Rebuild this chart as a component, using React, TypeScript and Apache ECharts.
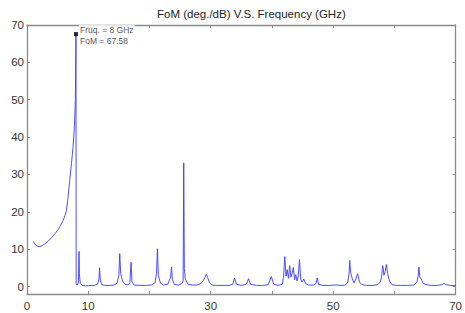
import React, { useEffect, useRef } from "react";
import * as echarts from "echarts";

const titleText = "FoM (deg./dB) V.S. Frequency (GHz)";

const freq = [
  1.0, 1.4, 1.8, 2.3, 2.9, 3.5, 4.0, 4.6, 5.1, 5.5, 5.9, 6.2, 6.45, 6.7, 6.98, 7.26, 7.52, 7.75, 7.9, 8.0,
  8.03, 8.2, 8.4, 8.5, 8.55, 8.7, 9.0, 9.5, 10.0, 10.5, 11.0, 11.5, 11.75, 11.85, 11.95, 12.2, 12.8, 13.5,
  14.2, 14.7, 15.0, 15.15, 15.3, 15.6, 16.0, 16.5, 16.8, 17.0, 17.15, 17.5, 18.5, 19.5, 20.3, 20.9, 21.15,
  21.3, 21.45, 21.8, 22.3, 23.0, 23.45, 23.6, 23.75, 24.1, 24.8, 25.3, 25.5, 25.6, 25.7, 25.85, 26.3, 27.0,
  27.8, 28.4, 28.8, 29.1, 29.3, 29.5, 29.8, 30.2, 31.0, 32.0, 33.0, 33.6, 33.9, 34.2, 35.0, 35.8, 36.2,
  36.5, 37.5, 38.5, 39.4, 39.9, 40.3, 41.0, 41.7, 41.9, 42.1, 42.3, 42.5, 42.7, 42.9, 43.1, 43.3, 43.5,
  43.7, 43.9, 44.1, 44.3, 44.5, 44.7, 44.9, 45.2, 45.5, 46.0, 46.8, 47.2, 47.4, 47.6, 48.3, 49.3, 50.3,
  51.3, 52.0, 52.4, 52.6, 52.7, 52.85, 53.1, 53.4, 53.7, 54.0, 54.3, 54.7, 55.5, 56.5, 57.3, 57.7, 57.9,
  58.1, 58.3, 58.5, 58.7, 58.9, 59.2, 59.6, 60.3, 61.2, 62.2, 63.2, 63.7, 63.9, 64.0, 64.15, 64.4, 64.7,
  65.2, 66.0, 67.0, 67.8, 68.1, 68.4, 69.2, 70.0,
];

const fom = [
  12.1, 11.1, 10.7, 10.8, 11.4, 12.2, 13.1, 14.2, 15.3, 16.4, 17.7, 19.0, 20.4, 23.9, 28.4, 32.9, 37.3, 43.0, 50.0, 67.58,
  0.6, 0.4, 1.2, 9.4, 3.5, 0.8, 0.3, 0.2, 0.2, 0.3, 0.3, 0.6, 2.0, 5.0, 2.0, 0.5, 0.3, 0.3,
  0.4, 0.9, 3.0, 8.8, 3.5, 1.5, 0.6, 0.4, 1.0, 6.5, 1.2, 0.4, 0.3, 0.3, 0.4, 1.0, 3.5,
  10.1, 3.0, 0.9, 0.4, 0.6, 2.5, 5.2, 1.8, 0.5, 0.4, 0.8, 1.5, 33.1, 4.8, 2.0, 0.6, 0.4,
  0.4, 0.8, 1.6, 2.6, 3.3, 2.4, 1.0, 0.4, 0.3, 0.3, 0.3, 0.6, 2.3, 0.6, 0.3, 0.6, 2.1,
  0.6, 0.3, 0.3, 0.5, 2.7, 0.6, 0.3, 0.6, 2.5, 8.0, 2.8, 4.5, 2.2, 5.6, 2.5, 3.5, 5.1,
  1.8, 3.2, 1.5, 2.8, 7.2, 2.0, 1.2, 2.0, 0.8, 0.4, 0.4, 0.8, 2.3, 0.6, 0.3, 0.3, 0.4,
  0.3, 0.4, 1.2, 3.5, 7.0, 3.8, 2.2, 1.0, 2.0, 3.4, 1.2, 0.5, 0.3, 0.3, 0.5, 1.2, 2.5,
  5.6, 3.0, 4.0, 5.9, 3.5, 1.5, 0.5, 0.3, 0.3, 0.3, 0.4, 1.2, 3.0, 5.2, 2.5, 2.0, 0.8,
  0.5, 0.3, 0.3, 0.5, 0.9, 0.5, 0.3, 0.2,
];

const xTicks = [0, 10, 20, 30, 40, 50, 60, 70];
const xLabels = [0, 10, 30, 50, 70];
const yTicks = [0, 10, 20, 30, 40, 50, 60, 70];

const tipFreq = 8;
const tipFoM = 67.58;

export default function App() {
  const ref = useRef<HTMLDivElement>(null);

  useEffect(() => {
    document.body.style.margin = "0";
    if (!ref.current) return;
    const chart = echarts.init(ref.current, undefined, { renderer: "svg" });
    const font = "'Liberation Sans', Arial, sans-serif";
    const axisColor = "#8a8a8a";
    const labelColor = "#333";
    const data = freq.map((f, i) => [f, fom[i]]);

    const baseX = {
      type: "value" as const,
      min: 0,
      max: 70,
      splitLine: { show: false },
      axisLine: { show: true, onZero: false, lineStyle: { color: axisColor, width: 1.3 } },
      axisTick: { show: true, inside: true, length: 3, customValues: xTicks, lineStyle: { color: axisColor } },
    };
    const baseY = {
      type: "value" as const,
      min: -2,
      max: 70,
      splitLine: { show: false },
      axisLine: { show: true, onZero: false, lineStyle: { color: axisColor, width: 1.3 } },
      axisTick: { show: true, inside: true, length: 3, customValues: yTicks, lineStyle: { color: axisColor } },
    };

    chart.setOption({
      animation: false,
      backgroundColor: "#ffffff",
      title: {
        text: titleText,
        left: 157,
        top: 8,
        padding: 0,
        textStyle: { fontFamily: font, fontSize: 11.5, fontWeight: "normal", color: "#222" },
      },
      grid: { left: 27, right: 8, top: 25, bottom: 19, containLabel: false },
      xAxis: [
        {
          ...baseX,
          position: "bottom",
          axisLabel: {
            show: true,
            customValues: xLabels,
            margin: 6,
            fontFamily: font,
            fontSize: 11.5,
            color: labelColor,
          },
        },
        { ...baseX, position: "top", axisLabel: { show: false } },
      ],
      yAxis: [
        {
          ...baseY,
          position: "left",
          axisLabel: {
            show: true,
            customValues: yTicks,
            margin: 3,
            fontFamily: font,
            fontSize: 11.5,
            color: labelColor,
          },
        },
        { ...baseY, position: "right", axisLabel: { show: false } },
      ],
      series: [
        {
          type: "line",
          data,
          showSymbol: false,
          symbol: "none",
          lineStyle: { color: "#3a3aff", width: 0.9 },
          z: 2,
        },
        {
          type: "scatter",
          data: [[tipFreq, tipFoM]],
          symbol: "rect",
          symbolSize: 4,
          itemStyle: { color: "#000" },
          z: 5,
          label: {
            show: true,
            formatter: () => `Fruq. = ${tipFreq} GHz\nFoM = ${tipFoM}`,
            position: [5, -7],
            align: "left",
            verticalAlign: "top",
            fontFamily: font,
            fontSize: 8.5,
            lineHeight: 10.5,
            color: "#222",
            backgroundColor: "#fff",
            padding: [0, 1],
          },
        },
      ],
    });

    return () => chart.dispose();
  }, []);

  return <div ref={ref} style={{ width: 465, height: 313 }} />;
}
